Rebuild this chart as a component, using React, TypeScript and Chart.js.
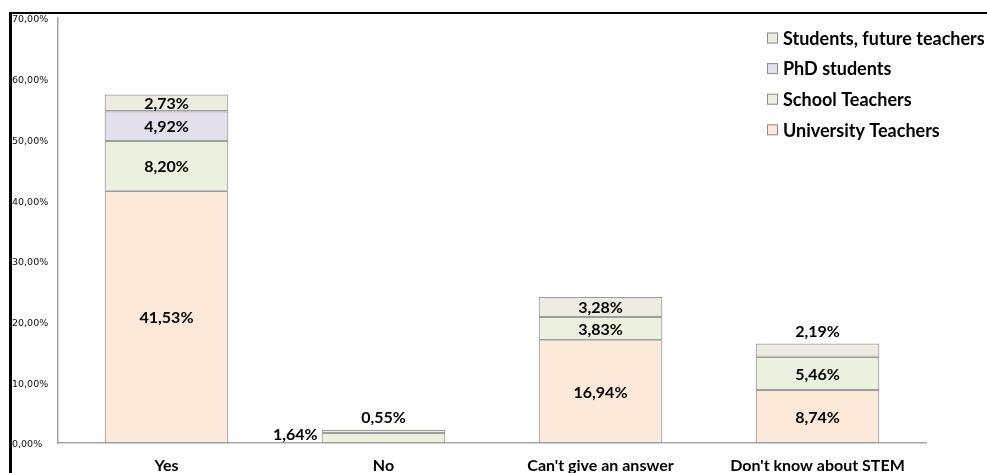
import React, { useEffect, useRef } from "react";
import { Chart, registerables } from "chart.js";

Chart.register(...registerables);

const categories = ["Yes", "No", "Can't give an answer", "Don't know about STEM"];
const universityTeachers = [41.53, 0, 16.94, 8.74];
const schoolTeachers = [8.2, 1.64, 3.83, 5.46];
const phdStudents = [4.92, 0, 0, 0];
const studentsFuture = [2.73, 0.55, 3.28, 2.19];
const yTicks = [0, 10, 20, 30, 40, 50, 60, 70];

const seriesNames = ["University Teachers", "School Teachers", "PhD students", "Students, future teachers"];
const seriesColors = ["#FDE9D9", "#EBF1DE", "#E4DFEC", "#EEECE1"];
const borderGray = "#9E9E9E";

const fmt = (v: number) => v.toFixed(2).replace(".", ",") + "%";

const labelPlugin = {
  id: "segLabels",
  afterDatasetsDraw(chart: any) {
    const ctx = chart.ctx;
    ctx.save();
    ctx.font = "bold 16px Lato";
    ctx.fillStyle = "#000";
    const n = chart.data.labels.length;
    for (let i = 0; i < n; i++) {
      let top = -1;
      chart.data.datasets.forEach((ds: any, d: number) => {
        if (ds.data[i] > 0) top = d;
      });
      chart.data.datasets.forEach((ds: any, d: number) => {
        const v = ds.data[i];
        if (!v) return;
        const el = chart.getDatasetMeta(d).data[i];
        const h = Math.abs(el.base - el.y);
        const cy = (el.y + el.base) / 2;
        if (h >= 15) {
          ctx.textAlign = "center";
          ctx.textBaseline = "middle";
          ctx.fillText(fmt(v), el.x, cy + 1);
        } else if (d === top) {
          ctx.textAlign = "center";
          ctx.textBaseline = "middle";
          ctx.fillText(fmt(v), el.x, el.y - 12);
        } else {
          ctx.textAlign = "right";
          ctx.textBaseline = "middle";
          ctx.fillText(fmt(v), el.x - el.width / 2 - 4, cy - 3);
        }
      });
    }
    ctx.restore();
  },
};

const legendPlugin = {
  id: "customLegend",
  afterDraw(chart: any) {
    const ctx = chart.ctx;
    ctx.save();
    ctx.font = "bold 18px Lato";
    ctx.textAlign = "left";
    ctx.textBaseline = "middle";
    const x0 = 767;
    const y0 = 38;
    const step = 30.6;
    for (let k = 0; k < seriesNames.length; k++) {
      const idx = seriesNames.length - 1 - k;
      const y = y0 + k * step;
      ctx.fillStyle = seriesColors[idx];
      ctx.fillRect(x0, y - 5.5, 11, 11);
      ctx.strokeStyle = "#8C8C8C";
      ctx.lineWidth = 1;
      ctx.strokeRect(x0 + 0.5, y - 5, 10, 10);
      ctx.fillStyle = "#000";
      ctx.fillText(seriesNames[idx], x0 + 16, y + 1);
    }
    ctx.restore();
  },
};

export default function App() {
  const ref = useRef<HTMLCanvasElement | null>(null);
  useEffect(() => {
    if (!ref.current) return;
    const seriesData = [universityTeachers, schoolTeachers, phdStudents, studentsFuture];
    const chart = new Chart(ref.current, {
      type: "bar",
      data: {
        labels: categories,
        datasets: seriesNames.map((name, i) => ({
          label: name,
          data: seriesData[i],
          backgroundColor: seriesColors[i],
          borderColor: borderGray,
          borderWidth: 1.2,
          borderSkipped: false,
          categoryPercentage: 1,
          barPercentage: 0.57,
        })),
      },
      options: {
        animation: false,
        responsive: false,
        maintainAspectRatio: false,
        layout: { padding: { left: 12, top: 18, right: 61, bottom: 0 } },
        plugins: { legend: { display: false }, tooltip: { enabled: false } },
        scales: {
          x: {
            stacked: true,
            grid: { display: false, drawTicks: false, tickLength: 0 },
            border: { display: true, color: "#A6A6A6", width: 1.5 },
            ticks: {
              color: "#000",
              font: { family: "Lato", weight: "bold", size: 16 },
              padding: 13,
              maxRotation: 0,
              autoSkip: false,
            },
            afterFit: (s: any) => {
              s.height = 30;
            },
          },
          y: {
            stacked: true,
            min: 0,
            max: 70,
            afterBuildTicks: (s: any) => {
              s.ticks = yTicks.map((v) => ({ value: v }));
            },
            grid: { display: false, drawTicks: false, tickLength: 0 },
            border: { display: true, color: "#A6A6A6", width: 1.5 },
            ticks: {
              color: "#111",
              font: { family: "DejaVu Sans", size: 9.5 },
              crossAlign: "far",
              padding: 0,
              labelOffset: 2,
              callback: (v: any) => fmt(Number(v)),
            },
            afterFit: (s: any) => {
              s.width = 46;
            },
          },
        },
      },
      plugins: [labelPlugin, legendPlugin],
    });
    return () => chart.destroy();
  }, []);
  return (
    <div style={{ position: "fixed", left: 0, top: 0, width: 987, height: 473, background: "#fff" }}>
      <canvas ref={ref} width={987} height={473} style={{ width: 987, height: 473, display: "block" }} />
      <div
        style={{
          position: "absolute",
          left: 9,
          top: 12,
          width: 978,
          height: 461,
          borderLeft: "3px solid #000",
          borderTop: "2px solid #000",
          boxSizing: "border-box",
          pointerEvents: "none",
        }}
      />
    </div>
  );
}
